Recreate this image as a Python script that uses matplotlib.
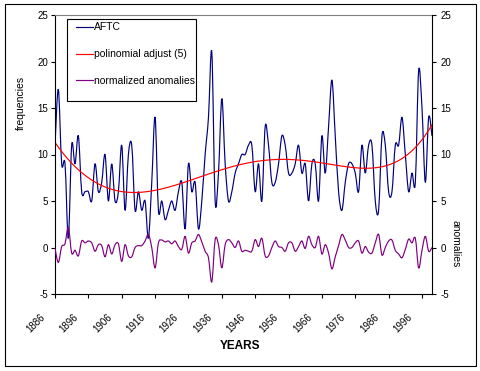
import numpy as np
import matplotlib
matplotlib.use("Agg")
import matplotlib.pyplot as plt
from matplotlib.path import Path
from matplotlib.patches import PathPatch, Rectangle
from matplotlib.lines import Line2D
from matplotlib.transforms import ScaledTranslation

plt.rcParams['font.family'] = ['Liberation Sans', 'DejaVu Sans']
plt.rcParams['axes.unicode_minus'] = False

# data
years = list(range(1886, 2000))
aftc = [11, 17, 9, 9, 1, 11, 9, 12, 6, 6,
        6, 5, 9, 6, 7, 10, 5, 9, 5, 6,
        11, 4, 10, 11, 4, 6, 4, 5, 1, 7,
        14, 4, 5, 3, 4, 5, 4, 6, 7, 2,
        9, 6, 7, 2, 5, 10, 14, 21, 5, 8,
        16, 9, 5, 6, 8, 9, 10, 10, 11, 11,
        6, 9, 5, 13, 11, 7, 7, 9, 12, 11,
        8, 8, 9, 11, 8, 9, 5, 9, 9, 5,
        12, 8, 13, 18, 12, 6, 4, 7, 9, 9,
        8, 6, 11, 8, 11, 11, 5, 4, 12, 11,
        6, 6, 11, 11, 14, 10, 6, 8, 7, 19,
        15, 7, 14, 12]
anomalies = [-0.1, -1.6, 0.1, 0.4, 2.2, -0.6, -0.3, -0.9, 0.7, 0.5,
             0.7, 0.5, -0.4, 0.3, 0.2, -1.0, 0.3, -0.7, 0.3, 0.4,
             -1.5, 0.3, -0.9, -1.0, 0.0, 0.2, 0.2, 0.7, 1.4, 0.0,
             -2.2, 0.5, 0.8, 0.6, 0.7, 0.4, 0.7, 0.1, -0.2, 1.2,
             -0.6, 0.5, 0.7, 1.4, 0.6, -0.4, -1.1, -3.7, 0.85, 0.3,
             -2.2, 0.3, 0.85, 0.5, 0.0, 0.7, -0.4, -0.3, -0.4, -0.4,
             0.85, 0.1, 1.0, -0.9, -0.9, 0.0, 0.7, 0.1, 0.0, -0.4,
             0.5, 0.5, -0.4, 0.1, 0.7, -0.1, 1.2, 0.3, 0.0, 1.2,
             -0.7, 0.3, -0.6, -2.3, -1.0, 0.2, 1.4, 0.8, 0.0, 0.0,
             0.5, 0.7, -0.6, 0.1, -0.5, -0.6, 0.5, 1.4, -0.8, 0.0,
             0.7, 0.8, -0.3, -0.7, -1.1, -0.2, 0.9, 0.5, 1.0, -2.2,
             -0.3, 1.2, -0.4, 0.0]
xtick_years = list(range(1886, 1997, 10))
yticks = [-5, 0, 5, 10, 15, 20, 25]

# 5th degree polynomial trend of the series (like the excel trendline)
idx = np.arange(len(aftc)) - len(aftc) / 2
coef = np.polyfit(idx, aftc, 5)
trend = np.polyval(coef, idx)


def smooth_path(x, y):
    # excel style smoothed line (bezier through the points)
    x = np.asarray(x, float)
    y = np.asarray(y, float)
    n = len(x)
    verts = [(x[0], y[0])]
    codes = [Path.MOVETO]
    for k in range(n - 1):
        p0 = max(k - 1, 0)
        p3 = min(k + 2, n - 1)
        c1 = (x[k] + (x[k + 1] - x[p0]) / 6, y[k] + (y[k + 1] - y[p0]) / 6)
        c2 = (x[k + 1] - (x[p3] - x[k]) / 6, y[k + 1] - (y[p3] - y[k]) / 6)
        verts += [c1, c2, (x[k + 1], y[k + 1])]
        codes += [Path.CURVE4] * 3
    return Path(verts, codes)


W, H = 481, 371
fig = plt.figure(figsize=(W / 100, H / 100), dpi=100)
ax = fig.add_axes([55 / W, 1 - 294 / H, 377 / W, 279 / H])

ax.add_patch(PathPatch(smooth_path(years, aftc), fill=False, edgecolor='#000080', lw=0.85))
ax.plot(years, trend, color='#ff0000', lw=0.85)

ax.set_xlim(years[0], years[-1])
ax.set_ylim(-5, 25)
ax.set_yticks(yticks)
ax.set_yticks([0, 5, 10, 15, 20], minor=True)
ax.grid(which='minor', axis='y', color='black', lw=0.8)
ax.tick_params(axis='y', which='minor', length=0)
ax.tick_params(axis='y', which='major', direction='out', length=3, width=0.8, pad=2, labelsize=7)
ax.set_xticks(xtick_years)
ax.set_xticklabels([str(y) for y in xtick_years], rotation=45, ha='right', va='top')
ax.tick_params(axis='x', direction='out', length=3, width=0.8, pad=10, labelsize=7)
for lbl in ax.get_xticklabels():
    lbl.set_transform(lbl.get_transform() + ScaledTranslation(-8 / 100, 0, fig.dpi_scale_trans))

for s in ['left', 'bottom']:
    ax.spines[s].set_color('black')
    ax.spines[s].set_linewidth(0.8)
ax.spines['top'].set_color('#808080')
ax.spines['top'].set_linewidth(0.8)
ax.spines['right'].set_visible(False)

ax2 = ax.twinx()
ax2.add_patch(PathPatch(smooth_path(years, anomalies), fill=False, edgecolor='#800080', lw=0.85))
ax2.set_xlim(years[0], years[-1])
ax2.set_ylim(-5, 25)
ax2.set_yticks(yticks)
ax2.tick_params(axis='y', direction='out', length=3, width=0.8, pad=3, labelsize=7)
for s in ['left', 'bottom', 'top']:
    ax2.spines[s].set_visible(False)
ax2.spines['right'].set_color('black')
ax2.spines['right'].set_linewidth(0.8)

# axis titles
fig.text(21 / W, 1 - 103 / H, 'frequencies', rotation=90, ha='center', va='center', fontsize=7.5)
fig.text(456 / W, 1 - 244 / H, 'anomalies', rotation=270, ha='center', va='center', fontsize=7.5)
fig.text(240 / W, 1 - 346 / H, 'YEARS', ha='center', va='center', fontsize=8.5, weight='bold')

# legend
fig.add_artist(Rectangle((67 / W, 1 - 101 / H), 129 / W, 82 / H, transform=fig.transFigure,
                         facecolor='white', edgecolor='black', lw=0.8, zorder=4))
handles = [Line2D([], [], color='#000080', lw=0.85),
           Line2D([], [], color='#ff0000', lw=0.85),
           Line2D([], [], color='#800080', lw=0.85)]
labels = ['AFTC', 'polinomial adjust (5)', 'normalized anomalies']
fig.legend(handles, labels, loc='upper left', bbox_to_anchor=(76 / W, 1 - 22.5 / H),
           bbox_transform=fig.transFigure, frameon=False, borderpad=0, borderaxespad=0,
           handlelength=1.6, handletextpad=0.15, labelspacing=1.6, fontsize=7.5)

# outer border
fig.add_artist(Rectangle((4.5 / W, 1 - 366 / H), 471.5 / W, 362 / H, transform=fig.transFigure,
                         fill=False, edgecolor='black', lw=0.8))

fig.savefig('out.png', dpi=100)
